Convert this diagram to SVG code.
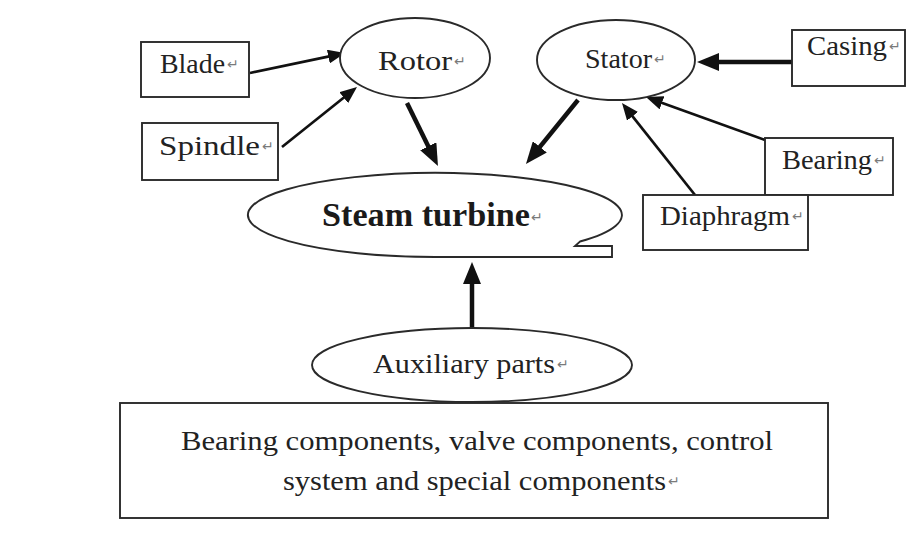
<svg xmlns="http://www.w3.org/2000/svg" width="909" height="538" viewBox="0 0 909 538">
<style>
.shape{fill:#fff;stroke:#2a2a2a;stroke-width:1.9}
.t{font-family:"Liberation Serif","Times New Roman",serif;font-size:28px;fill:#222}
.tb{font-family:"Liberation Serif","Times New Roman",serif;font-size:33px;font-weight:bold;fill:#1a1a1a}
.tl{font-family:"Liberation Serif","Times New Roman",serif;font-size:27px;fill:#222}
.pm{font-family:"DejaVu Sans",sans-serif;font-size:14px;fill:#7a7a7a}
.a1{stroke:#111;stroke-width:2.7;fill:none;marker-end:url(#h1)}
.a2{stroke:#111;stroke-width:4.5;fill:none;marker-end:url(#h2)}
</style>
<defs>
<marker id="h1" markerUnits="userSpaceOnUse" markerWidth="17" markerHeight="14" refX="7" refY="7" orient="auto"><path d="M0,0 L17,7 L0,14 Z" fill="#111"/></marker>
<marker id="h2" markerUnits="userSpaceOnUse" markerWidth="22" markerHeight="18" refX="8" refY="9" orient="auto"><path d="M0,0 L22,9 L0,18 Z" fill="#111"/></marker>
</defs>
<rect width="909" height="538" fill="#fff"/>
<g id="connectors">
<line class="a1" x1="250" y1="73" x2="335.2" y2="55.1"/>
<line class="a1" x1="282" y1="147" x2="349.2" y2="93.3"/>
<line class="a2" x1="407" y1="103" x2="431.8" y2="153.4"/>
<line class="a2" x1="578" y1="100" x2="534.8" y2="153.1"/>
<line class="a2" x1="792" y1="62" x2="711" y2="62"/>
<line class="a1" x1="765" y1="140" x2="655.4" y2="100.4"/>
<line class="a1" x1="695" y1="195" x2="628.2" y2="110.8"/>
<line class="a2" x1="472" y1="327" x2="472" y2="276"/>
</g>
<g id="blade"><rect class="shape" x="141" y="42" width="108" height="55"/><text class="t" x="160" y="73" textLength="65" lengthAdjust="spacingAndGlyphs">Blade</text><text class="pm" x="227" y="69">↵</text></g>
<g id="spindle"><rect class="shape" x="142" y="123" width="136" height="57"/><text class="t" x="159" y="155" textLength="101" lengthAdjust="spacingAndGlyphs">Spindle</text><text class="pm" x="262" y="151">↵</text></g>
<g id="rotor"><ellipse class="shape" cx="415" cy="58" rx="75" ry="40"/><text class="t" x="378" y="70" textLength="74" lengthAdjust="spacingAndGlyphs">Rotor</text><text class="pm" x="454" y="66">↵</text></g>
<g id="stator"><ellipse class="shape" cx="616" cy="60" rx="79" ry="40"/><text class="t" x="585" y="68" textLength="67" lengthAdjust="spacingAndGlyphs">Stator</text><text class="pm" x="654" y="64">↵</text></g>
<g id="casing"><rect class="shape" x="792" y="30" width="113" height="56"/><text class="t" x="807" y="55" textLength="80" lengthAdjust="spacingAndGlyphs">Casing</text><text class="pm" x="889" y="51">↵</text></g>
<g id="bearing"><rect class="shape" x="765" y="138" width="128" height="57"/><text class="t" x="782" y="169" textLength="90" lengthAdjust="spacingAndGlyphs">Bearing</text><text class="pm" x="874" y="165">↵</text></g>
<g id="diaphragm"><rect class="shape" x="643" y="195" width="165" height="55"/><text class="t" x="660" y="225" textLength="130" lengthAdjust="spacingAndGlyphs">Diaphragm</text><text class="pm" x="792" y="221">↵</text></g>
<g id="steam-turbine"><path class="shape" d="M435,257 A187,42 0 1 1 580,241.5 L575,246 L612,246 L612,257 Z"/><text class="tb" x="322" y="226" textLength="208" lengthAdjust="spacingAndGlyphs">Steam turbine</text><text class="pm" x="531" y="222">↵</text></g>
<g id="auxiliary"><ellipse class="shape" cx="472" cy="365" rx="160" ry="37"/><text class="t" x="373" y="373" textLength="182" lengthAdjust="spacingAndGlyphs">Auxiliary parts</text><text class="pm" x="557" y="369">↵</text></g>
<g id="components"><rect class="shape" x="120" y="403" width="708" height="115"/><text class="tl" x="181" y="450" textLength="592" lengthAdjust="spacingAndGlyphs">Bearing components, valve components, control</text><text class="tl" x="283" y="490" textLength="383" lengthAdjust="spacingAndGlyphs">system and special components</text><text class="pm" x="668" y="486">↵</text></g>
</svg>
